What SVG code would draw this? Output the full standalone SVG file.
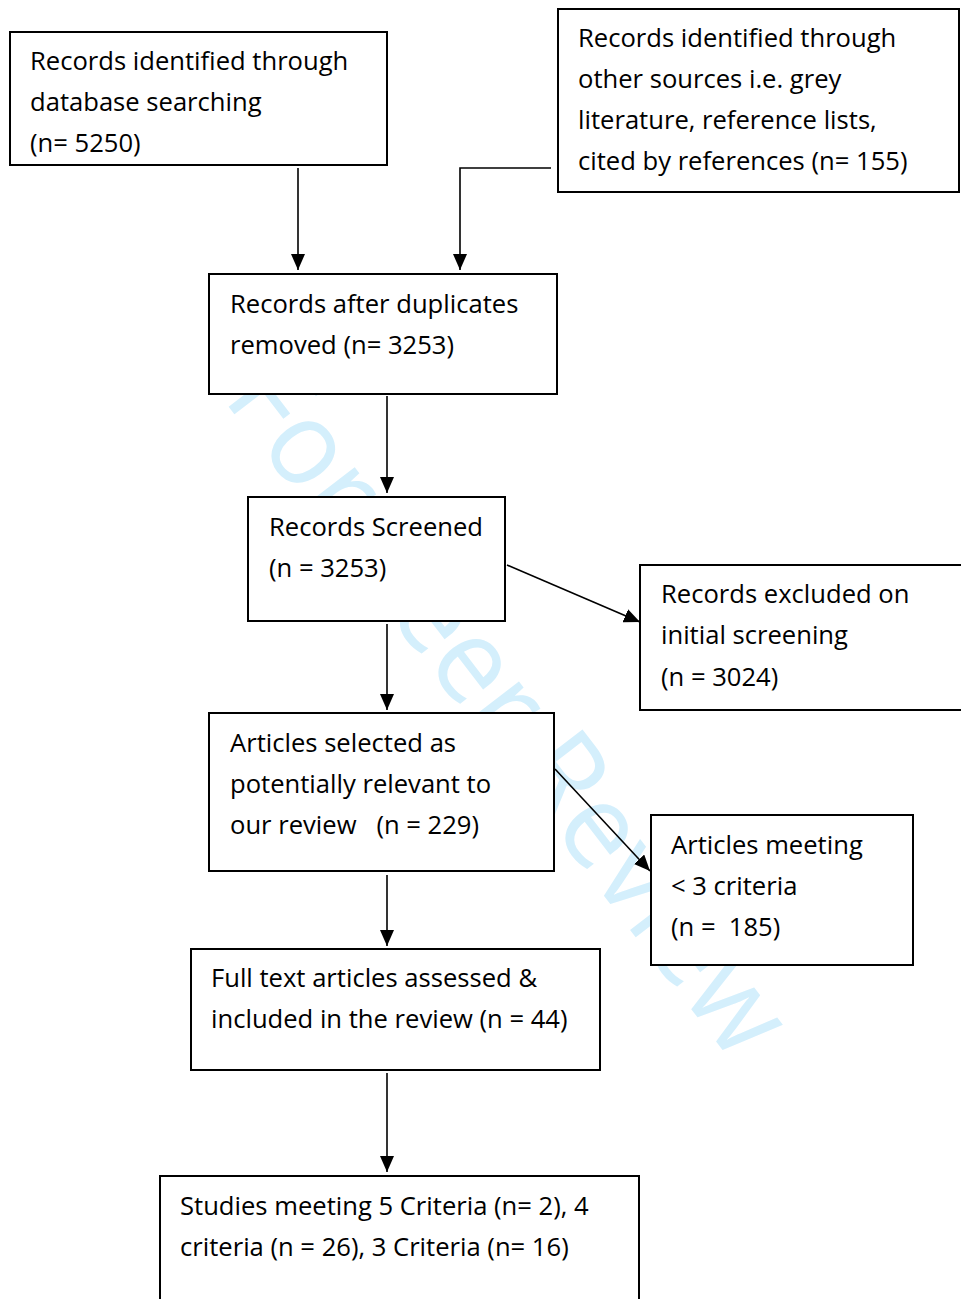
<svg xmlns="http://www.w3.org/2000/svg" width="961" height="1299" viewBox="0 0 961 1299">
<style>
.box{fill:#fff;stroke:#000;stroke-width:2}
.t{font-family:"Open Sans","Noto Sans","Liberation Sans",sans-serif;font-size:25.6px;fill:#000}
.c{stroke:#000;stroke-width:1.6;fill:none}
.wm{font-family:"Open Sans","Noto Sans","Liberation Sans",sans-serif;font-size:118px;fill:#d4effc}
</style>
<defs>
<marker id="ah2" markerWidth="16" markerHeight="14" refX="16" refY="7" orient="auto" markerUnits="userSpaceOnUse" viewBox="0 0 16 14">
<path d="M0,0 L16,7 L0,14 z" fill="#000"/>
</marker>
</defs>
<rect width="961" height="1299" fill="#fff"/>
<text class="wm" x="222" y="398" transform="rotate(52.5 222 398)" textLength="840" lengthAdjust="spacingAndGlyphs">For Peer Review</text>
<g id="connectors">
<line class="c" x1="298" y1="168" x2="298" y2="270" marker-end="url(#ah2)"/>
<polyline class="c" points="551,168 460,168 460,270" marker-end="url(#ah2)"/>
<line class="c" x1="387" y1="396" x2="387" y2="493" marker-end="url(#ah2)"/>
<line class="c" x1="507" y1="565" x2="640" y2="622" marker-end="url(#ah2)"/>
<line class="c" x1="387" y1="624" x2="387" y2="710" marker-end="url(#ah2)"/>
<line class="c" x1="555" y1="769" x2="650" y2="871" marker-end="url(#ah2)"/>
<line class="c" x1="387" y1="875" x2="387" y2="946" marker-end="url(#ah2)"/>
<line class="c" x1="387" y1="1073" x2="387" y2="1172" marker-end="url(#ah2)"/>
</g>
<g id="n1"><rect class="box" x="10" y="32" width="377" height="133"/>
<text class="t" x="30" y="70">Records identified through</text>
<text class="t" x="30" y="111">database searching</text>
<text class="t" x="30" y="152">(n= 5250)</text></g>
<g id="n2"><rect class="box" x="558" y="9" width="401" height="183"/>
<text class="t" x="578" y="47">Records identified through</text>
<text class="t" x="578" y="88">other sources i.e. grey</text>
<text class="t" x="578" y="129">literature, reference lists,</text>
<text class="t" x="578" y="170">cited by references (n= 155)</text></g>
<g id="n3"><rect class="box" x="209" y="274" width="348" height="120"/>
<text class="t" x="230" y="313">Records after duplicates</text>
<text class="t" x="230" y="354">removed (n= 3253)</text></g>
<g id="n4"><rect class="box" x="248" y="497" width="257" height="124"/>
<text class="t" x="269" y="536">Records Screened</text>
<text class="t" x="269" y="577">(n = 3253)</text></g>
<g id="n5"><rect class="box" x="640" y="565" width="330" height="145"/>
<text class="t" x="661" y="603">Records excluded on</text>
<text class="t" x="661" y="644">initial screening</text>
<text class="t" x="661" y="686">(n = 3024)</text></g>
<g id="n6"><rect class="box" x="209" y="713" width="345" height="158"/>
<text class="t" x="230" y="752">Articles selected as</text>
<text class="t" x="230" y="793">potentially relevant to</text>
<text class="t" x="230" y="834" xml:space="preserve">our review   (n = 229)</text></g>
<g id="n7"><rect class="box" x="651" y="815" width="262" height="150"/>
<text class="t" x="671" y="854">Articles meeting</text>
<text class="t" x="671" y="895">&lt; 3 criteria</text>
<text class="t" x="671" y="936" xml:space="preserve">(n =  185)</text></g>
<g id="n8"><rect class="box" x="191" y="949" width="409" height="121"/>
<text class="t" x="211" y="987">Full text articles assessed &amp;</text>
<text class="t" x="211" y="1028">included in the review (n = 44)</text></g>
<g id="n9"><rect class="box" x="160" y="1176" width="479" height="140"/>
<text class="t" x="180" y="1215">Studies meeting 5 Criteria (n= 2), 4</text>
<text class="t" x="180" y="1256">criteria (n = 26), 3 Criteria (n= 16)</text></g>
</svg>
